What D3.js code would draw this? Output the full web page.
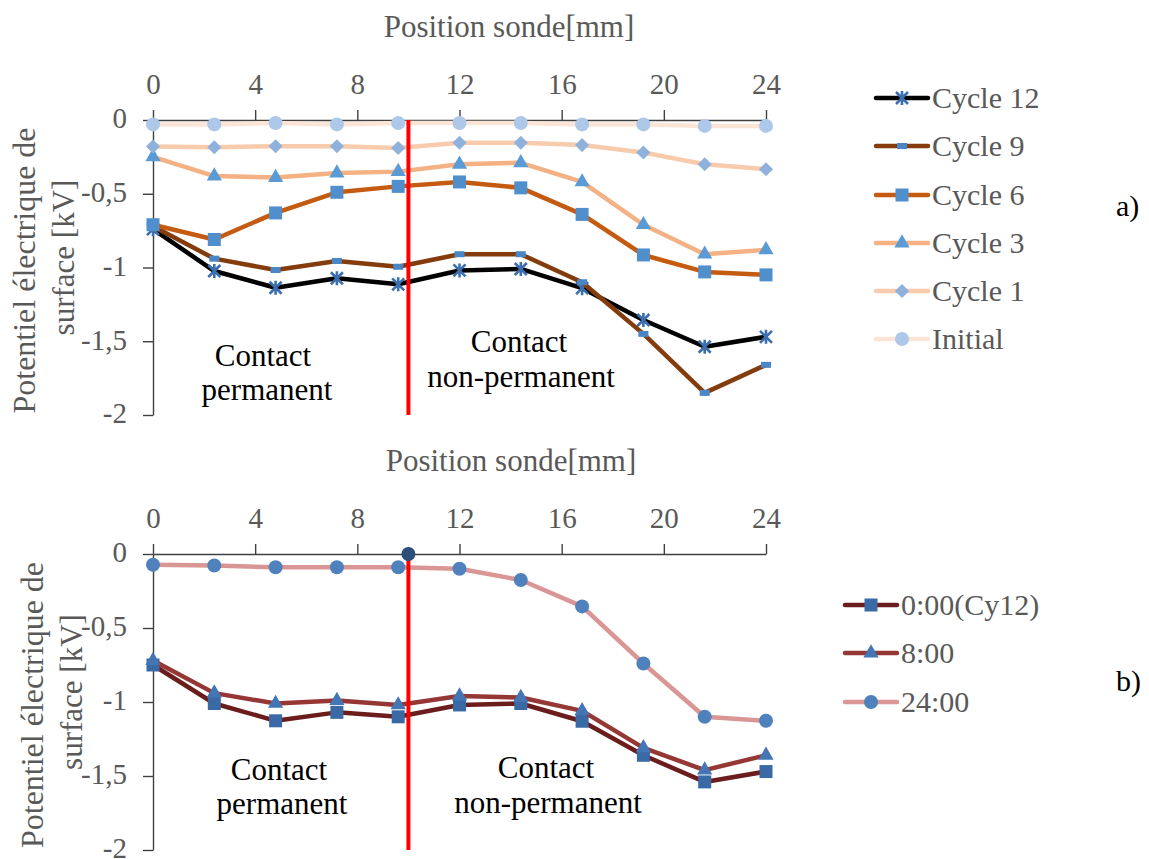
<!DOCTYPE html>
<html><head><meta charset="utf-8">
<script src="https://cdn.jsdelivr.net/npm/d3@7"></script>
<style>body{margin:0;background:#fff}svg{display:block}svg text{font-family:"Liberation Serif","Tinos","DejaVu Serif",serif !important}</style>
</head><body>
<svg id="c" width="1149" height="859" font-family="Liberation Serif"></svg>
<script>
const positions = [0, 2.4, 4.8, 7.2, 9.6, 12, 14.4, 16.8, 19.2, 21.6, 24];
const xTicks = [0, 4, 8, 12, 16, 20, 24];
const yTicks = [0, -0.5, -1, -1.5, -2];
const yTickLabels = ["0", "-0,5", "-1", "-1,5", "-2"];

// Panel a)
const cycle12 = [-0.74, -1.024, -1.137, -1.073, -1.114, -1.02, -1.01, -1.14, -1.356, -1.537, -1.47];
const cycle9  = [-0.72, -0.94, -1.017, -0.956, -0.995, -0.91, -0.91, -1.10, -1.45, -1.85, -1.66];
const cycle6  = [-0.71, -0.81, -0.63, -0.49, -0.45, -0.42, -0.46, -0.64, -0.915, -1.03, -1.05];
const cycle3  = [-0.25, -0.38, -0.39, -0.36, -0.35, -0.30, -0.29, -0.42, -0.71, -0.91, -0.88];
const cycle1  = [-0.18, -0.185, -0.178, -0.178, -0.19, -0.154, -0.154, -0.17, -0.22, -0.30, -0.334];
const initial = [-0.03, -0.03, -0.02, -0.03, -0.02, -0.02, -0.02, -0.03, -0.03, -0.04, -0.04];
const seriesA = ["Cycle 12", "Cycle 9", "Cycle 6", "Cycle 3", "Cycle 1", "Initial"];

// Panel b)
const t0  = [-0.75, -1.01, -1.127, -1.07, -1.10, -1.02, -1.01, -1.13, -1.36, -1.54, -1.47];
const t8  = [-0.72, -0.94, -1.01, -0.99, -1.02, -0.96, -0.97, -1.06, -1.31, -1.46, -1.36];
const t24 = [-0.073, -0.078, -0.09, -0.09, -0.09, -0.10, -0.176, -0.354, -0.74, -1.10, -1.127];
const seriesB = ["0:00(Cy12)", "8:00", "24:00"];

const separatorX = 10;
const xTitle = "Position sonde[mm]";
const yTitle1 = "Potentiel électrique de";
const yTitle2 = "surface [kV]";

const FONT = '"Liberation Serif", Tinos, "DejaVu Serif", serif';
const svg = d3.select("#c");
const grey = "#595959";
const x = d3.scaleLinear().domain([0, 24]).range([153, 766]);

const styleA = [
  {data: cycle12, line: "#000000", mk: "asterisk", mc: "#3b6fb0"},
  {data: cycle9,  line: "#843c0c", mk: "dash",     mc: "#4a86c5"},
  {data: cycle6,  line: "#c55a11", mk: "square",   mc: "#4f8fcb"},
  {data: cycle3,  line: "#f4b183", mk: "triangle", mc: "#5a9bd5"},
  {data: cycle1,  line: "#f8cbad", mk: "diamond",  mc: "#8fb2dd"},
  {data: initial, line: "#fbe5d6", mk: "circle",   mc: "#adc8e8"}
];
const styleB = [
  {data: t0,  line: "#6b1c1c", mk: "square",   mc: "#3a6aa5"},
  {data: t8,  line: "#953735", mk: "triangle", mc: "#4475b4"},
  {data: t24, line: "#d99694", mk: "circle",   mc: "#4f81bd"}
];

function drawMarker(g, type, color, cx, cy) {
  if (type === "circle") {
    g.append("circle").attr("cx", cx).attr("cy", cy).attr("r", 7).attr("fill", color);
  } else if (type === "square") {
    g.append("path").attr("d", d3.symbol(d3.symbolSquare, 169)()).attr("transform", `translate(${cx},${cy})`).attr("fill", color);
  } else if (type === "triangle") {
    g.append("path").attr("d", d3.symbol(d3.symbolTriangle, 100)()).attr("transform", `translate(${cx},${cy})`).attr("fill", color);
  } else if (type === "diamond") {
    g.append("path").attr("d", d3.symbol(d3.symbolSquare, 100)()).attr("transform", `translate(${cx},${cy}) rotate(45)`).attr("fill", color);
  } else if (type === "dash") {
    g.append("rect").attr("x", cx - 5).attr("y", cy - 3).attr("width", 10).attr("height", 6).attr("fill", color);
  } else if (type === "asterisk") {
    const s = 6;
    const p = d3.path();
    p.moveTo(cx - s, cy - s); p.lineTo(cx + s, cy + s);
    p.moveTo(cx - s, cy + s); p.lineTo(cx + s, cy - s);
    p.moveTo(cx, cy - s - 1); p.lineTo(cx, cy + s + 1);
    g.append("path").attr("d", p.toString()).attr("stroke", color).attr("stroke-width", 2.6).attr("fill", "none");
  }
}

function txt(g) { return g.append("text").attr("font-family", FONT).style("font-family", FONT); }

function panel(y0, y1, styles, names, legendX, legendRows, label, labelY, annots, titleShift) {
  const y = d3.scaleLinear().domain([0, -2]).range([y0, y1]);
  const g = svg.append("g");
  const ax = g.append("g").attr("transform", `translate(0,${y0})`)
    .call(d3.axisTop(x).tickValues(xTicks).tickSize(10).tickSizeOuter(0).tickPadding(16));
  const ay = g.append("g").attr("transform", `translate(${x(0)},0)`)
    .call(d3.axisLeft(y).tickValues(yTicks).tickFormat((d, i) => yTickLabels[i]).tickSize(10).tickSizeOuter(0).tickPadding(16));
  [ax, ay].forEach(a => {
    a.attr("font-family", FONT).attr("font-size", 29);
    a.selectAll("path.domain").attr("stroke", "#404040").attr("stroke-width", 1.4);
    a.selectAll(".tick line").attr("stroke", "#404040").attr("stroke-width", 1.4);
    a.selectAll("text").attr("fill", grey).attr("font-family", FONT).style("font-family", FONT).style("font-size", "29px");
  });
  ay.selectAll("text").attr("dy", "0.27em");
  txt(g).attr("x", 509 + titleShift.x).attr("y", y0 - 83).attr("text-anchor", "middle")
    .attr("fill", grey).style("font-size", "31px").text(xTitle);
  const cy = (y0 + y1) / 2;
  txt(g).attr("transform", `translate(${35 + titleShift.y},${cy + 3}) rotate(-90)`).attr("text-anchor", "middle")
    .attr("fill", grey).style("font-size", "32px").text(yTitle1);
  txt(g).attr("transform", `translate(${74 + titleShift.y},${cy - 10}) rotate(-90)`).attr("text-anchor", "middle")
    .attr("fill", grey).style("font-size", "31px").text(yTitle2);
  const line = d3.line().x((d, i) => x(positions[i])).y(d => y(d));
  styles.forEach(s => {
    g.append("path").datum(s.data).attr("d", line).attr("fill", "none")
      .attr("stroke", s.line).attr("stroke-width", 4.5).attr("stroke-linejoin", "round");
    s.data.forEach((v, i) => drawMarker(g, s.mk, s.mc, x(positions[i]), y(v)));
  });
  g.append("line").attr("x1", x(separatorX)).attr("x2", x(separatorX)).attr("y1", y(0)).attr("y2", y(-2))
    .attr("stroke", "#ff0000").attr("stroke-width", 4);
  annots.forEach(a => {
    txt(g).attr("x", a.x).attr("y", a.y).attr("text-anchor", "middle").attr("fill", "#000")
      .style("font-size", "31px").text(a.t);
  });
  styles.forEach((s, i) => {
    const ry = legendRows[i];
    g.append("line").attr("x1", legendX).attr("x2", legendX + 52).attr("y1", ry).attr("y2", ry)
      .attr("stroke", s.line).attr("stroke-width", 4.5).attr("stroke-linecap", "round");
    drawMarker(g, s.mk, s.mc, legendX + 26, ry);
    txt(g).attr("x", legendX + 56).attr("y", ry + 10).attr("fill", grey)
      .style("font-size", "30px").text(names[i]);
  });
  txt(g).attr("x", 1116).attr("y", labelY).attr("fill", "#000").style("font-size", "30px").text(label);
  return {g, y};
}

panel(120, 415, styleA, seriesA, 876, [98, 146, 195, 243, 291, 339], "a)", 216,
  [{t: "Contact", x: 263, y: 366}, {t: "permanent", x: 267, y: 400},
   {t: "Contact", x: 519, y: 352}, {t: "non-permanent", x: 521, y: 387}], {x: 0, y: 0});

const pb = panel(554, 850, styleB, seriesB, 845, [605, 653, 702], "b)", 691,
  [{t: "Contact", x: 279, y: 780}, {t: "permanent", x: 282, y: 814},
   {t: "Contact", x: 546, y: 778}, {t: "non-permanent", x: 548, y: 813}], {x: 2, y: 8});
pb.g.append("circle").attr("cx", x(separatorX)).attr("cy", pb.y(0)).attr("r", 7).attr("fill", "#2e4e7a");
</script>
</body></html>
